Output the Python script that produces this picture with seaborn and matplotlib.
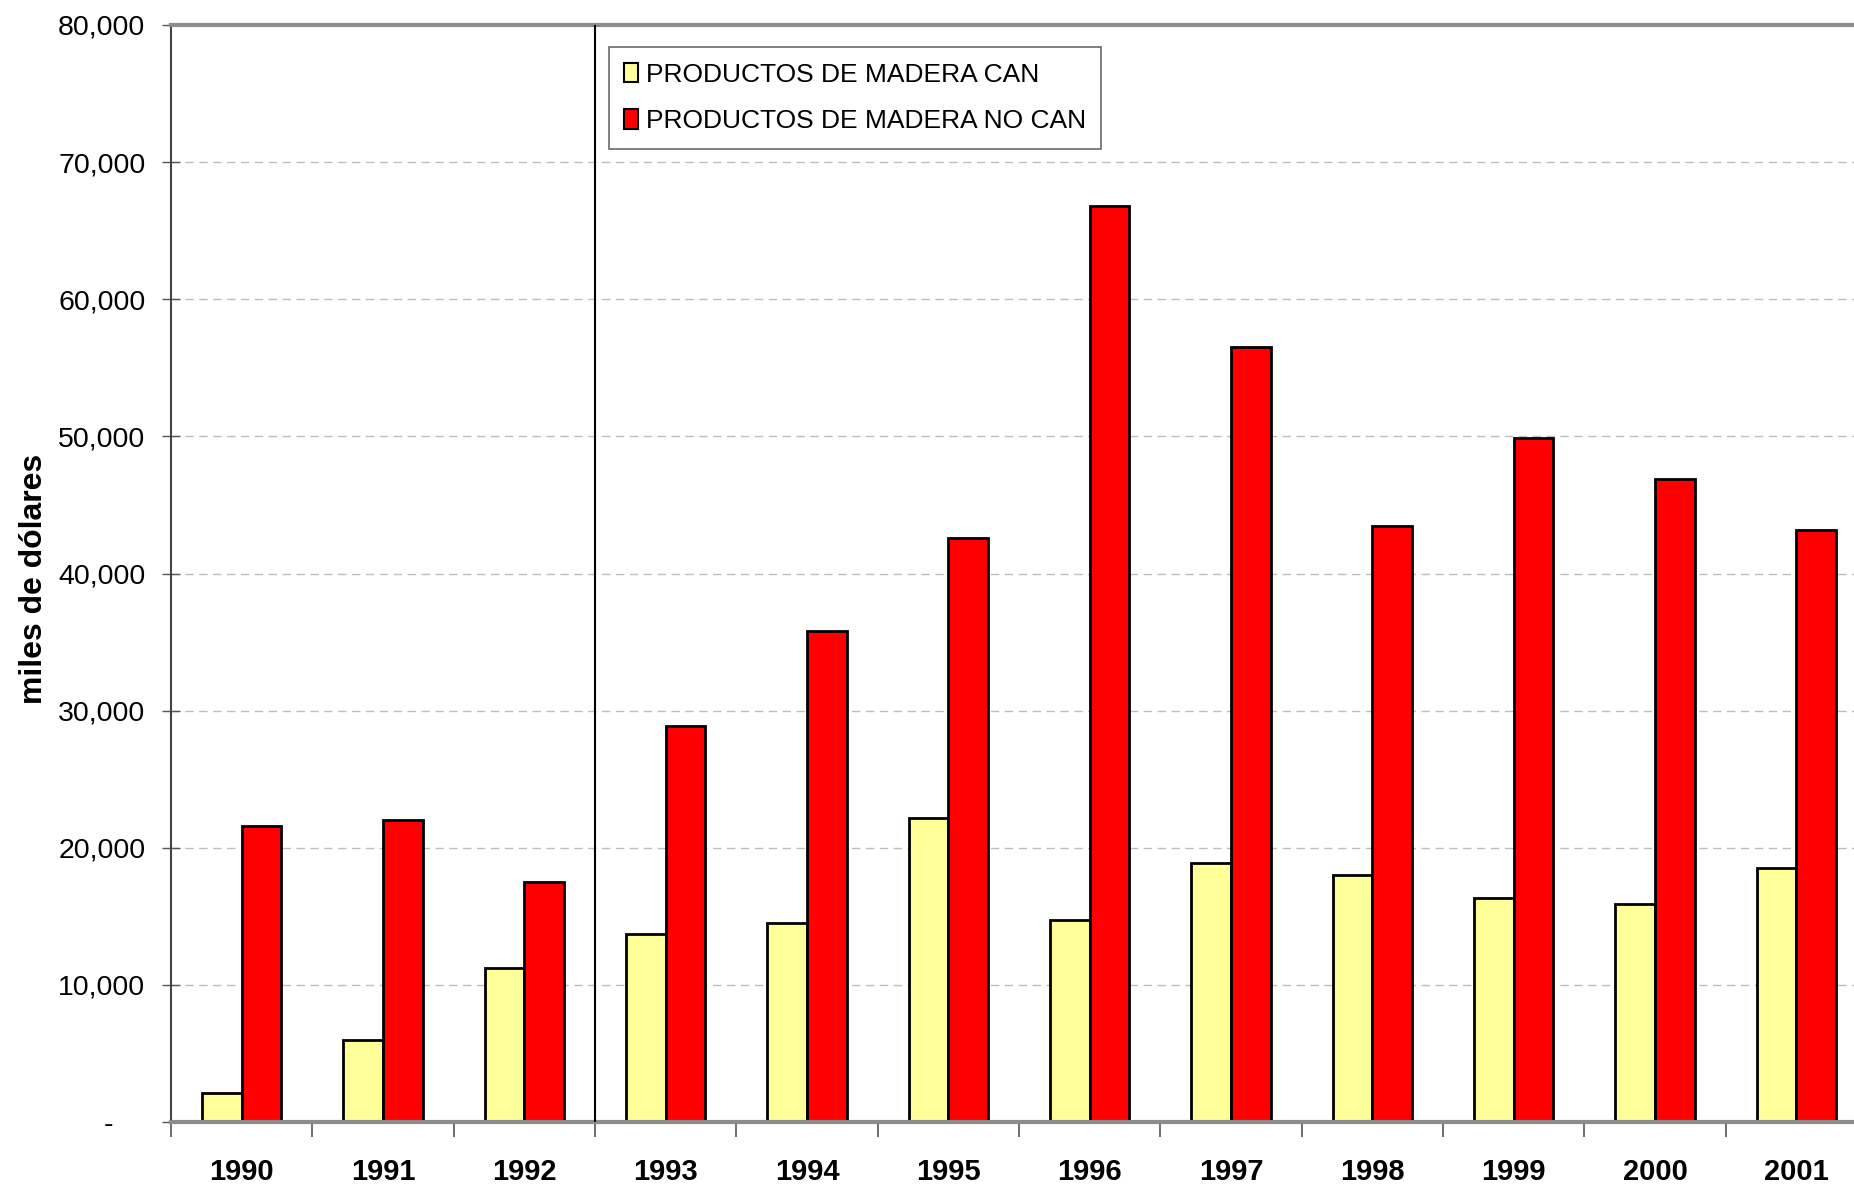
"""
Importaciones de productos de madera CAN / NO CAN, 1990-2001.
"""
import matplotlib
matplotlib.use('Agg')
import matplotlib.pyplot as plt
import matplotlib.ticker as mticker
import pandas as pd
import seaborn as sns

YEARS = ['1990', '1991', '1992', '1993', '1994', '1995',
         '1996', '1997', '1998', '1999', '2000', '2001']
CAN = [2100, 6000, 11200, 13700, 14500, 22200,
       14700, 18900, 18000, 16300, 15900, 18500]
NO_CAN = [21600, 22000, 17500, 28900, 35800, 42600,
          66800, 56500, 43500, 49900, 46900, 43200]
SERIES = ['PRODUCTOS DE MADERA CAN', 'PRODUCTOS DE MADERA NO CAN']
COLORS = ['#FFFF99', '#FF0000']
Y_TICKS = [0, 10000, 20000, 30000, 40000, 50000, 60000, 70000, 80000]

df = pd.DataFrame({
    'year': YEARS * 2,
    'value': CAN + NO_CAN,
    'serie': [SERIES[0]] * len(YEARS) + [SERIES[1]] * len(YEARS),
})

sns.set_theme(style='white')
plt.rcParams['font.family'] = ['Liberation Sans', 'DejaVu Sans']
plt.rcParams['text.color'] = 'black'
plt.rcParams['xtick.labelcolor'] = 'black'
plt.rcParams['ytick.labelcolor'] = 'black'
plt.rcParams['axes.labelcolor'] = 'black'

fig = plt.figure(figsize=(18.54, 11.91), dpi=100)
W, H = 1854, 1191
left, right, top, bottom = 171, 1867, 25, 1122
ax = fig.add_axes([left / W, 1 - bottom / H, (right - left) / W, (bottom - top) / H])

sns.barplot(data=df, x='year', y='value', hue='serie', palette=COLORS,
            width=0.56, edgecolor='black', linewidth=2, saturation=1,
            ax=ax, legend=True)

ax.set_xlim(-0.5, len(YEARS) - 0.5)
ax.set_ylim(0, 80000)
ax.set_yticks(Y_TICKS)
ax.yaxis.set_major_formatter(mticker.FuncFormatter(
    lambda v, _: '-    ' if v == 0 else f'{int(v):,}'))

ax.grid(axis='y', color='#BDBDBD', linestyle=(0, (6, 4)), linewidth=1)
ax.set_axisbelow(True)

# separator between 1992 and 1993
ax.axvline(2.5, color='black', linewidth=1.5, zorder=5)

# category boundaries as ticks, labels centered
ax.set_xticks([i - 0.5 for i in range(len(YEARS) + 1)], minor=True)
ax.tick_params(axis='x', which='minor', length=11, width=1.2, color='#555555',
               direction='out', bottom=True)
ax.tick_params(axis='x', which='major', length=0, pad=26, labelsize=21)
for lbl in ax.get_xticklabels():
    lbl.set_fontweight('bold')
ax.tick_params(axis='y', which='major', direction='inout', length=13, width=1,
               color='#555555', left=True, pad=12, labelsize=20.5)

for side in ['top', 'bottom']:
    ax.spines[side].set_color('#8C8C8C')
    ax.spines[side].set_linewidth(3)
ax.spines['left'].set_color('#444444')
ax.spines['left'].set_linewidth(1.5)
ax.spines['right'].set_visible(False)

ax.set_xlabel('')
ax.set_ylabel('miles de dólares', fontsize=23, fontweight='bold')
ax.yaxis.set_label_coords(-0.072, 0.495)

leg = ax.legend(loc='upper left', bbox_to_anchor=(0.258, 0.98), borderaxespad=0,
                fontsize=19, frameon=True, fancybox=False, shadow=False,
                handlelength=0.5, handleheight=0.75, handletextpad=0.3,
                labelspacing=0.85, borderpad=0.6)
leg.get_frame().set_edgecolor('#444444')
leg.get_frame().set_linewidth(1.2)
for h in leg.legend_handles:
    h.set_linewidth(1.5)

fig.savefig('out.png', dpi=100, facecolor='white')
